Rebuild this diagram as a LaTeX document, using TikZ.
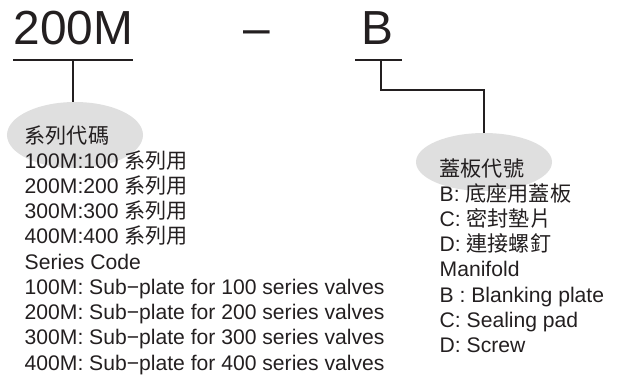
\documentclass[tikz,border=0pt]{standalone}
\usepackage{fontspec}
\setmainfont{Liberation Sans}
\newfontfamily\cjk{Noto Sans CJK TC}
\usepackage{xcolor}
\usetikzlibrary{shapes.geometric, calc}

\definecolor{ink}{HTML}{231F20}

\begin{document}
\begin{tikzpicture}[x=1bp, y=-1bp,
    partcode/.style={anchor=base west, inner sep=0pt, text=ink, font=\fontsize{48}{48}\selectfont},
    keytag/.style={ellipse, fill=gray!25, inner sep=0pt, minimum width=136bp},
    legend/.style={anchor=base west, inner sep=0pt, align=left, text=ink, font=\fontsize{21.2}{25.3}\selectfont},
    leader/.style={draw=ink, line width=1.2bp}]
  \useasboundingbox (0,0) rectangle (618,378);

  % Key ellipses (behind the text)
  \node[keytag, minimum height=66bp] (serieskey) at (75,135) {};
  \node[keytag, minimum height=58bp] (coverkey) at (484,162) {};

  % Part number
  \node[partcode] (series) at (13.5,44) {200M};
  \node[partcode] (dash) at (243,44) {–};
  \node[partcode] (cover) at (361,44) {B};

  % Underlines and leaders
  \coordinate (seriesbar) at (73,60);
  \coordinate (coverbar) at (381,60);
  \draw[leader] (13,60) -- (133,60);
  \draw[leader] (355,60) -- (402,60);
  \draw[leader] (seriesbar) -- (seriesbar |- serieskey.north);
  \draw[leader] (coverbar) -- ++(0,30) -| (coverkey.north);

  % Series code legend (anchored on its last line)
  \node[legend] (serieslist) at (24.5,370) {{\cjk 系列代碼}\\
    100M:100 {\cjk 系列用}\\
    200M:200 {\cjk 系列用}\\
    300M:300 {\cjk 系列用}\\
    400M:400 {\cjk 系列用}\\
    Series Code\\
    100M: Sub−plate for 100 series valves\\
    200M: Sub−plate for 200 series valves\\
    300M: Sub−plate for 300 series valves\\
    400M: Sub−plate for 400 series valves};

  % Manifold legend
  \node[legend] (coverlist) at (439.5,352.5) {{\cjk 蓋板代號}\\
    B: {\cjk 底座用蓋板}\\
    C: {\cjk 密封墊片}\\
    D: {\cjk 連接螺釘}\\
    Manifold\\
    B : Blanking plate\\
    C: Sealing pad\\
    D: Screw};

\end{tikzpicture}
\end{document}
